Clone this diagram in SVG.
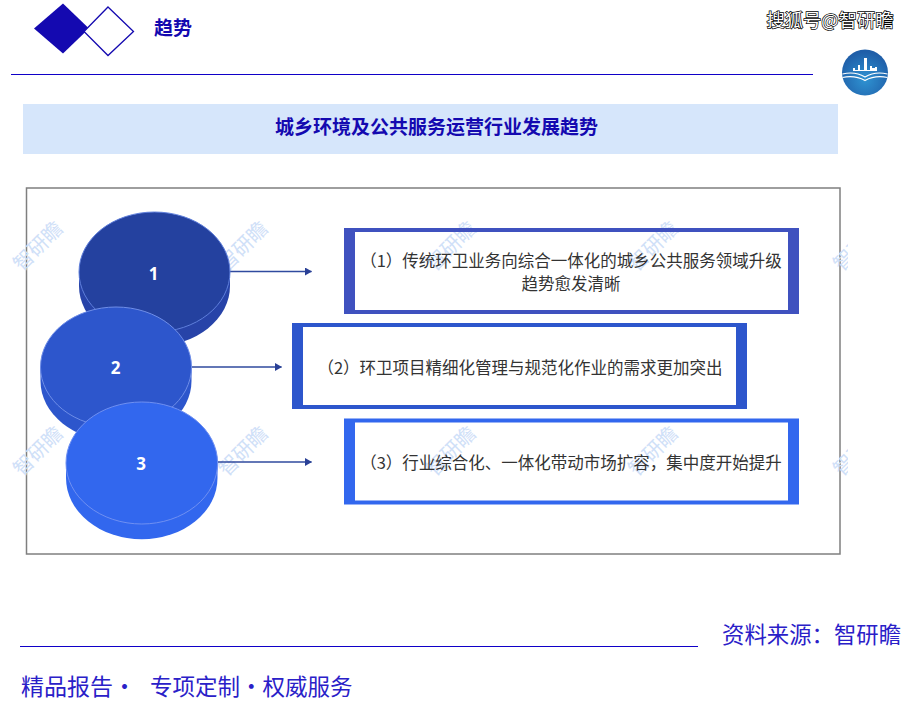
<svg xmlns="http://www.w3.org/2000/svg" width="915" height="721" viewBox="0 0 915 721">
<style>
text{font-family:"Noto Sans CJK SC","Liberation Sans",sans-serif}
.head{font-size:19px;font-weight:700;fill:#1409b0;text-anchor:middle}
.item{font-size:16.500px;fill:#333;text-anchor:middle}
.num{font-size:17px;font-weight:700;fill:#fff;text-anchor:middle;font-family:"Noto Sans","Liberation Sans",sans-serif}
.foot{font-size:22.400px;fill:#2a20c8}
.rule{stroke:#1000c8;stroke-width:1.200;fill:none}
.wm{font-size:20px;fill:#cfe0f8;text-anchor:middle}
.conn{stroke:#2f4a9e;stroke-width:1.300;fill:none;marker-end:url(#a)}
</style>
<defs>
<marker id="a" markerUnits="userSpaceOnUse" markerWidth="7" markerHeight="8" refX="6.500" refY="4" orient="auto"><path d="M0 0L7 4L0 8Z" fill="#2a4096"/></marker>
<radialGradient id="lg" cx="50%" cy="65%" r="60%"><stop offset="0" stop-color="#2f93d2"/><stop offset="1" stop-color="#1f5ea8"/></radialGradient>
<clipPath id="wc"><rect x="0" y="180" width="848" height="320"/></clipPath>
</defs>
<rect width="915" height="721" fill="#fff"/>
<g id="header">
<path d="M63 3.500L89 28.500L63 53.500L34 28.500Z" fill="#1409b0"/>
<path d="M108 7L133.500 31.500L108 55.500L84 31.500Z" fill="#fff" stroke="#1409b0" stroke-width="1.300"/>
<text class="head" x="173" y="35">趋势</text>
<path class="rule" d="M11 74.500H813"/>
<text x="830" y="27" text-anchor="middle" font-size="18.300" fill="#fff" stroke="#000" stroke-width="1.400" paint-order="stroke">搜狐号@智研瞻</text>
</g>
<g id="logo">
<circle cx="865" cy="72.500" r="23" fill="url(#lg)"/>
<path d="M853 71V68H855V70H858V65H860V70H864V58H867V70H870V66H872V68H875V67H877V71Z" fill="#fff"/>
<path d="M842.500 74Q855 71 865 77Q875 71 887.500 74M842.500 77.500Q855 75 865 80.500Q875 75 887.500 77.500" fill="none" stroke="#fff" stroke-width="1.200"/>
</g>
<g id="banner">
<rect x="23" y="104" width="815" height="50" fill="#d6e6fb"/>
<text class="head" x="436.500" y="134">城乡环境及公共服务运营行业发展趋势</text>
</g>
<rect id="frame" x="26.500" y="188" width="813.500" height="366" fill="#fff" stroke="#7f7f7f" stroke-width="1.500"/>
<g id="watermarks" clip-path="url(#wc)">
<text class="wm" transform="translate(43 251) rotate(-45)">智研瞻</text>
<text class="wm" transform="translate(248 251) rotate(-45)">智研瞻</text>
<text class="wm" transform="translate(456 251) rotate(-45)">智研瞻</text>
<text class="wm" transform="translate(658 251) rotate(-45)">智研瞻</text>
<text class="wm" transform="translate(863 251) rotate(-45)">智研瞻</text>
<text class="wm" transform="translate(43 456) rotate(-45)">智研瞻</text>
<text class="wm" transform="translate(248 456) rotate(-45)">智研瞻</text>
<text class="wm" transform="translate(456 456) rotate(-45)">智研瞻</text>
<text class="wm" transform="translate(658 456) rotate(-45)">智研瞻</text>
<text class="wm" transform="translate(863 456) rotate(-45)">智研瞻</text>
</g>
<g id="connectors">
<path class="conn" d="M230 271.500H311.500"/>
<path class="conn" d="M192 367H281.500"/>
<path class="conn" d="M218 462H311.500"/>
</g>
<g id="node-1">
<path d="M79 272V286A75.500 60 0 0 0 230 286V272Z" fill="#2743a8"/>
<ellipse cx="154.500" cy="272" rx="75.500" ry="60" fill="#24419f" stroke="#5f7fdc" stroke-width="1"/>
<text class="num" x="153.500" y="280">1</text>
</g>
<g id="node-2">
<path d="M40.500 367V381A75.500 60 0 0 0 191.500 381V367Z" fill="#2d56cc"/>
<ellipse cx="116" cy="367" rx="75.500" ry="60" fill="#2d56cc" stroke="#6f8ee8" stroke-width="1"/>
<text class="num" x="115.500" y="374">2</text>
</g>
<g id="node-3">
<path d="M66 463V478A75.500 61 0 0 0 217.500 478V463Z" fill="#3267ee"/>
<ellipse cx="141.800" cy="463" rx="75.800" ry="61" fill="#3267ee" stroke="#6f90f2" stroke-width="1"/>
<text class="num" x="141" y="470">3</text>
</g>
<g id="box-1">
<path fill-rule="evenodd" d="M344 228H799V314H344ZM355 232V310H788V232Z" fill="#3f51bf"/>
<text class="item" x="571" y="267">（1）传统环卫业务向综合一体化的城乡公共服务领域升级</text>
<text class="item" x="571" y="290">趋势愈发清晰</text>
</g>
<g id="box-2">
<path fill-rule="evenodd" d="M292 323H747V409H292ZM303 327V405H736V327Z" fill="#2d56cc"/>
<text class="item" x="520" y="374">（2）环卫项目精细化管理与规范化作业的需求更加突出</text>
</g>
<g id="box-3">
<path fill-rule="evenodd" d="M344 418.500H799V504.500H344ZM355 422.500V500.500H788V422.500Z" fill="#3267ee"/>
<text class="item" x="571" y="469">（3）行业综合化、一体化带动市场扩容，集中度开始提升</text>
</g>
<g id="footer">
<path class="rule" d="M20 646.500H698"/>
<text class="foot" x="722" y="643">资料来源：智研瞻</text>
<text class="foot" x="21" y="695" style="font-size:23px">精品报告•</text>
<text class="foot" x="150" y="695" style="font-size:22.500px">专项定制•权威服务</text>
</g>
</svg>
